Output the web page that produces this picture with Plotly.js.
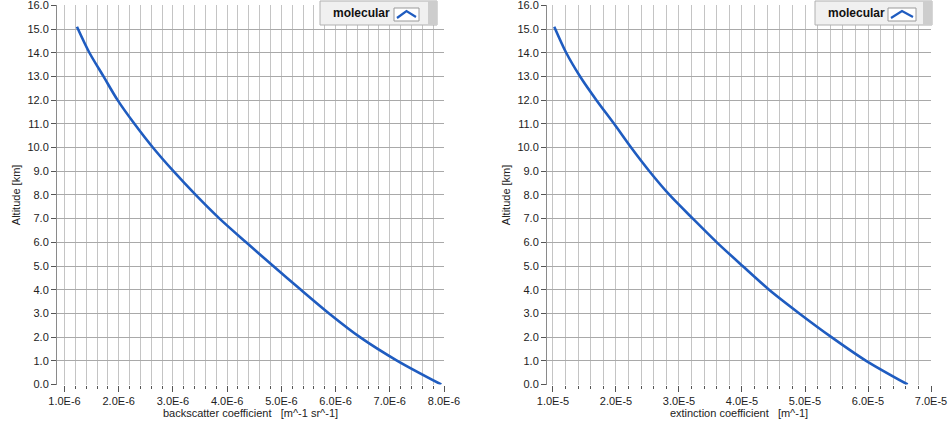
<!DOCTYPE html>
<html>
<head>
<meta charset="utf-8">
<script src="https://cdn.plot.ly/plotly-3.0.1.min.js"></script>
<style>html,body{margin:0;padding:0;background:#fff;}#chart{width:950px;height:432px;}</style>
</head>
<body>
<div id="chart"></div>
<script>
// ---- data ----
const altitude = [0, 1, 2, 3, 4, 5, 6, 7, 8, 9, 10, 11, 12, 13, 14, 15.1];
const backscatter = [7.95e-6, 7.14e-6, 6.45e-6, 5.88e-6, 5.36e-6, 4.85e-6, 4.35e-6, 3.86e-6, 3.42e-6, 3.01e-6, 2.63e-6, 2.29e-6, 1.98e-6, 1.72e-6, 1.46e-6, 1.23e-6];
const extinction = [6.63e-5, 5.97e-5, 5.42e-5, 4.91e-5, 4.43e-5, 4.01e-5, 3.60e-5, 3.22e-5, 2.85e-5, 2.53e-5, 2.24e-5, 1.97e-5, 1.69e-5, 1.43e-5, 1.21e-5, 1.02e-5];
const seriesName = 'molecular';
const yTickVals = [0, 1, 2, 3, 4, 5, 6, 7, 8, 9, 10, 11, 12, 13, 14, 15, 16];
const yTickText = ['0.0', '1.0', '2.0', '3.0', '4.0', '5.0', '6.0', '7.0', '8.0', '9.0', '10.0', '11.0', '12.0', '13.0', '14.0', '15.0', '16.0'];
const xTickValsL = [1e-6, 2e-6, 3e-6, 4e-6, 5e-6, 6e-6, 7e-6, 8e-6];
const xTickTextL = ['1.0E-6', '2.0E-6', '3.0E-6', '4.0E-6', '5.0E-6', '6.0E-6', '7.0E-6', '8.0E-6'];
const xTickValsR = [1e-5, 2e-5, 3e-5, 4e-5, 5e-5, 6e-5, 7e-5];
const xTickTextR = ['1.0E-5', '2.0E-5', '3.0E-5', '4.0E-5', '5.0E-5', '6.0E-5', '7.0E-5'];
const xTitleL = 'backscatter coefficient \u00a0 [m^-1 sr^-1]';
const xTitleR = 'extinction coefficient \u00a0 [m^-1]';
const yTitle = 'Altitude [km]';

// ---- styling ----
const W = 950, H = 432;
const px = x => x / W;
const py = y => 1 - y / H;
const font = {family: 'Liberation Sans, Arial, sans-serif', size: 11, color: '#222'};
const lineColor = '#1f5cc0';

function trace(x, xa, ya) {
  return {
    x: x, y: altitude, xaxis: xa, yaxis: ya, type: 'scatter', mode: 'lines',
    name: seriesName, showlegend: false, cliponaxis: false,
    line: {color: lineColor, width: 2.6, shape: 'spline', smoothing: 0.8}
  };
}

function xaxis(domain, range, vals, text, title, dt) {
  return {
    domain: domain, range: range, tickmode: 'array', tickvals: vals, ticktext: text,
    ticks: 'outside', ticklen: 6, tickcolor: '#555', tickwidth: 1,
    showgrid: true, gridcolor: '#c4c4c4', gridwidth: 1,
    zeroline: false, showline: false, automargin: false,
    tickfont: font,
    minor: {tickmode: 'linear', tick0: vals[0], dtick: dt, showgrid: true, gridcolor: '#c4c4c4', gridwidth: 1, ticks: 'outside', ticklen: 3, tickcolor: '#555'},
    title: {text: title, font: font, standoff: 2},
    fixedrange: true
  };
}
function yaxis(domain, anchor) {
  return {
    domain: domain, range: [0, 16.002], anchor: anchor,
    tickmode: 'array', tickvals: yTickVals, ticktext: yTickText,
    ticks: 'outside', ticklen: 5, tickcolor: '#555',
    showgrid: true, gridcolor: '#a9a9a9', gridwidth: 1,
    zeroline: false, showline: true, linecolor: '#8a8a8a', linewidth: 1,
    automargin: false, tickfont: font, ticklabeloverflow: 'allow',
    title: {text: yTitle, font: font, standoff: 4},
    fixedrange: true
  };
}

const yDom = [(H - 384.5) / H, (H - 5.3) / H];

function legendShapes(x0, x1, ix0, ix1) {
  return [
    {type: 'rect', xref: 'paper', yref: 'paper', x0: px(x0), x1: px(x1), y0: py(25), y1: py(1),
     fillcolor: '#f0f0f0', line: {color: '#b0b0b0', width: 1}, layer: 'above'},
    {type: 'rect', xref: 'paper', yref: 'paper', x0: px(x1 - 9), x1: px(x1), y0: py(25), y1: py(1),
     fillcolor: '#cdcdcd', line: {width: 0}, layer: 'above'},
    {type: 'rect', xref: 'paper', yref: 'paper', x0: px(ix0), x1: px(ix1), y0: py(21), y1: py(8),
     fillcolor: '#ffffff', line: {color: '#9a9a9a', width: 1}, layer: 'above'},
    {type: 'path', xref: 'paper', yref: 'paper',
     path: 'M ' + px(ix0 + 3) + ' ' + py(18) + ' L ' + px((ix0 + ix1) / 2) + ' ' + py(11) + ' L ' + px(ix1 - 3) + ' ' + py(17),
     line: {color: lineColor, width: 2.2}, layer: 'above'}
  ];
}

const data = [trace(backscatter, 'x', 'y'), trace(extinction, 'x2', 'y2')];

const legendFont = {family: 'Liberation Sans, Arial, sans-serif', size: 12, color: '#111'};

const layout = {
  width: W, height: H,
  margin: {l: 0, r: 0, t: 0, b: 0},
  paper_bgcolor: '#ffffff', plot_bgcolor: '#ffffff',
  showlegend: false,
  font: font,
  xaxis: Object.assign(xaxis([px(57), px(444)], [0.862e-6, 8e-6], xTickValsL, xTickTextL, xTitleL, 2e-7), {anchor: 'y'}),
  yaxis: yaxis(yDom, 'x'),
  xaxis2: Object.assign(xaxis([px(547), px(931)], [0.905e-5, 7e-5], xTickValsR, xTickTextR, xTitleR, 2e-6), {anchor: 'y2'}),
  yaxis2: yaxis(yDom, 'x2'),
  shapes: legendShapes(320, 437, 394, 419).concat(legendShapes(815, 932, 888, 916)),
  annotations: [
    {xref: 'paper', yref: 'paper', x: px(361), y: py(13), text: '<b>' + seriesName + '</b>', showarrow: false,
     font: legendFont, xanchor: 'center', yanchor: 'middle'},
    {xref: 'paper', yref: 'paper', x: px(856), y: py(13), text: '<b>' + seriesName + '</b>', showarrow: false,
     font: legendFont, xanchor: 'center', yanchor: 'middle'}
  ]
};

Plotly.newPlot('chart', data, layout, {displayModeBar: false, staticPlot: true});
</script>
</body>
</html>
